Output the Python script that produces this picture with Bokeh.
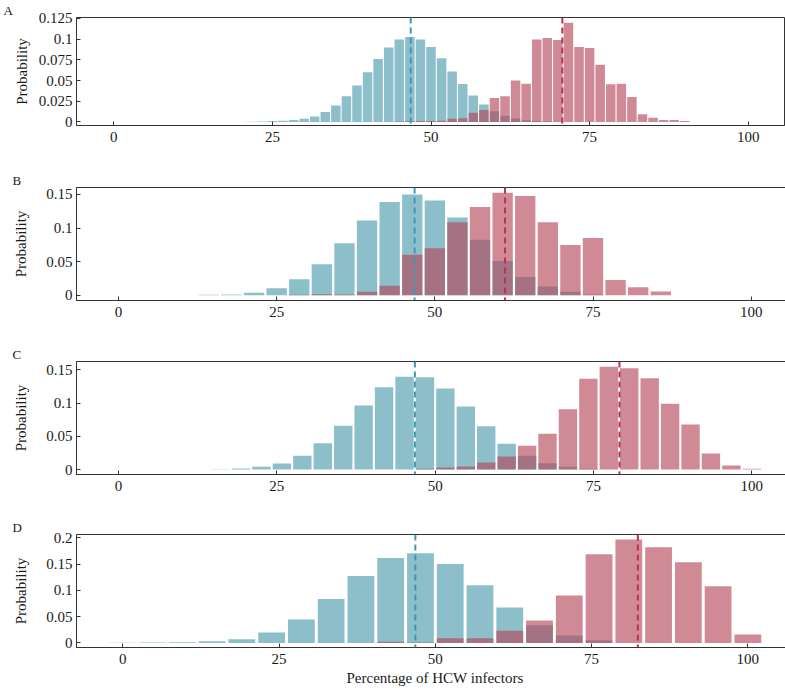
from bokeh.plotting import figure
from bokeh.layouts import column
from bokeh.models import Span, Title, FixedTicker, NumeralTickFormatter, Range1d
from bokeh.embed import file_html
from bokeh.resources import INLINE

# ---------------- data (probabilities per bin; bins are k*100/N percent) -------------
X_TICKS = [0, 25, 50, 75, 100]
X_LABEL = "Percentage of HCW infectors"
Y_LABEL = "Probability"

A_BINS = 60
A_BLUE_FROM = 13
A_BLUE = [0.0002, 0.0005, 0.001, 0.0015, 0.0023, 0.004, 0.0066, 0.012, 0.02, 0.031,
          0.044, 0.06, 0.076, 0.09, 0.0995, 0.1026, 0.0995, 0.0906, 0.077, 0.061,
          0.0459, 0.0319, 0.021, 0.013, 0.0075, 0.0043, 0.002, 0.001, 0.0005, 0.0003]
A_RED_FROM = 27
A_RED = [0.0005, 0.0008, 0.001, 0.001, 0.0015, 0.004, 0.0045, 0.011, 0.0145, 0.029,
         0.031, 0.050, 0.046, 0.0995, 0.1015, 0.099, 0.12, 0.0906, 0.0894, 0.069,
         0.0455, 0.046, 0.030, 0.0093, 0.005, 0.0023, 0.0023, 0.001]
A_MEANS = [46.8, 70.7]
A_YTICKS = [0, 0.025, 0.05, 0.075, 0.1, 0.125]

B_BINS = 28
B_BLUE_FROM = 4
B_BLUE = [0.0005, 0.001, 0.0035, 0.0104, 0.0238, 0.046, 0.0773, 0.1114, 0.1387, 0.15,
          0.1412, 0.1159, 0.0827, 0.051, 0.0272, 0.0129, 0.005, 0.001]
B_RED_FROM = 8
B_RED = [0.0005, 0.0015, 0.001, 0.005, 0.0139, 0.0604, 0.0698, 0.1085, 0.1313, 0.1526,
         0.1476, 0.1085, 0.0748, 0.0852, 0.0228, 0.0119, 0.0054]
B_MEANS = [46.8, 61.1]
B_YTICKS = [0, 0.05, 0.1, 0.15]

C_BINS = 31
C_BLUE_FROM = 4
C_BLUE = [0.0002, 0.0005, 0.0015, 0.004, 0.009, 0.0206, 0.0396, 0.0657, 0.0963, 0.1239,
          0.1394, 0.1389, 0.122, 0.0948, 0.0652, 0.0386, 0.0206, 0.0095, 0.004, 0.001]
C_RED_FROM = 15
C_RED = [0.001, 0.003, 0.0045, 0.0105, 0.0196, 0.0356, 0.0537, 0.0908, 0.1364, 0.1545,
         0.1525, 0.1374, 0.0988, 0.0677, 0.0241, 0.006, 0.001]
C_MEANS = [46.8, 79.1]
C_YTICKS = [0, 0.05, 0.1, 0.15]

D_BINS = 21
D_BLUE_FROM = 0
D_BLUE = [0.0003, 0.0005, 0.0013, 0.003, 0.007, 0.0197, 0.0444, 0.0838, 0.1276, 0.1619,
          0.1708, 0.1505, 0.1098, 0.0673, 0.0337, 0.014, 0.005]
D_RED_FROM = 9
D_RED = [0.002, 0.0006, 0.0089, 0.0089, 0.0229, 0.0425, 0.0902, 0.1689, 0.1968, 0.1822,
         0.1537, 0.1079, 0.0159]
D_MEANS = [46.8, 82.4]
D_YTICKS = [0, 0.05, 0.1, 0.15, 0.2]

# ---------------- style ----------------
FONT = "Liberation Serif"
BLUE = "#8DBFCB"
RED = "#B34255"
RED_ALPHA = 0.62
BLUE_LINE = "#3A9AB4"
RED_LINE = "#B8324E"
AXIS = "#333333"
TEXT = "#1a1a1a"


def panel(letter, nbins, blue_from, blue, red_from, red, means, yticks, xr, yr,
          left, fwidth, top, fheight, bottom, ylab_standoff, xlabel=None):
    p = figure(frame_width=fwidth, frame_height=fheight,
               x_range=Range1d(*xr), y_range=Range1d(*yr),
               output_backend="svg", toolbar_location=None, title=None,
               min_border_left=left, min_border_right=1,
               min_border_top=top, min_border_bottom=bottom,
               background_fill_color="white", border_fill_color="white")
    pitch = 100.0 / nbins
    xb = [(blue_from + i) * pitch for i in range(len(blue))]
    xrd = [(red_from + i) * pitch for i in range(len(red))]
    p.vbar(x=xb, top=blue, width=0.9 * pitch, fill_color=BLUE, line_color=None)
    p.vbar(x=xrd, top=red, width=0.9 * pitch, fill_color=RED, fill_alpha=RED_ALPHA,
           line_color=None)
    p.add_layout(Span(location=means[0], dimension="height", line_color=BLUE_LINE,
                      line_dash="6 4", line_width=2))
    p.add_layout(Span(location=means[1], dimension="height", line_color=RED_LINE,
                      line_dash="6 4", line_width=2))

    p.xgrid.visible = False
    p.ygrid.visible = False
    p.outline_line_color = AXIS
    p.outline_line_width = 1
    p.outline_line_alpha = 1

    p.xaxis.ticker = FixedTicker(ticks=X_TICKS)
    p.yaxis.ticker = FixedTicker(ticks=yticks)
    p.yaxis.formatter = NumeralTickFormatter(format="0.[000]")
    for ax in (p.xaxis[0], p.yaxis[0]):
        ax.axis_line_color = AXIS
        ax.axis_line_width = 1
        ax.major_tick_line_color = AXIS
        ax.major_tick_in = 4
        ax.major_tick_out = 0
        ax.minor_tick_line_color = None
        ax.major_label_text_font = FONT
        ax.major_label_text_font_size = "15px"
        ax.major_label_text_color = TEXT
        ax.axis_label_text_font = FONT
        ax.axis_label_text_font_size = "15px"
        ax.axis_label_text_font_style = "normal"
        ax.axis_label_text_color = TEXT
    p.xaxis.major_label_standoff = 6
    p.yaxis.major_label_standoff = 4
    p.yaxis.axis_label = Y_LABEL
    p.yaxis.axis_label_standoff = ylab_standoff
    if xlabel:
        p.xaxis.axis_label = xlabel
        p.xaxis.axis_label_standoff = 3

    p.add_layout(Title(text=letter, align="left", offset=-left + 3, standoff=0,
                       text_font=FONT, text_font_size="13px",
                       text_font_style="normal", text_color=TEXT), "above")
    return p


pA = panel("A", A_BINS, A_BLUE_FROM, A_BLUE, A_RED_FROM, A_RED, A_MEANS, A_YTICKS,
           (-5.88, 105.72), (-0.0043, 0.1262), 76, 708, 17, 108, 35, 6)
pB = panel("B", B_BINS, B_BLUE_FROM, B_BLUE, B_RED_FROM, B_RED, B_MEANS, B_YTICKS,
           (-6.64, 106.69), (-0.0079, 0.1604), 67, 717, 27, 113, 34, 14)
pC = panel("C", C_BINS, C_BLUE_FROM, C_BLUE, C_RED_FROM, C_RED, C_MEANS, C_YTICKS,
           (-6.63, 106.58), (-0.0075, 0.1625), 67, 717, 27, 113, 34, 14)
pD = panel("D", D_BINS, D_BLUE_FROM, D_BLUE, D_RED_FROM, D_RED, D_MEANS, D_YTICKS,
           (-7.41, 107.3), (-0.0088, 0.2065), 67, 717, 26, 113, 45, 14, xlabel=X_LABEL)

layout = column(pA, pB, pC, pD)
open("out.html", "w").write(file_html(layout, INLINE))
